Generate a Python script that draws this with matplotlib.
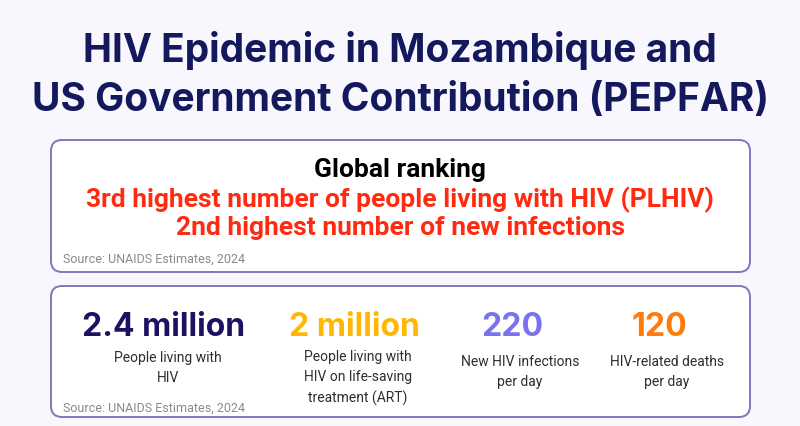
import matplotlib.pyplot as plt
from matplotlib.patches import FancyBboxPatch

title_lines = ["HIV Epidemic in Mozambique and", "US Government Contribution (PEPFAR)"]
ranking_head = "Global ranking"
ranking_lines = ["3rd highest number of people living with HIV (PLHIV)",
                 "2nd highest number of new infections"]
source = "Source: UNAIDS Estimates, 2024"

stat_values = ["2.4 million", "2 million", "220", "120"]
stat_labels = ["People living with\nHIV",
               "People living with\nHIV on life-saving\ntreatment (ART)",
               "New HIV infections\nper day",
               "HIV-related deaths\nper day"]
stat_colors = ["#1f1162", "#ffb703", "#7b72f0", "#ff7b0a"]
value_x = [164, 354, 512, 659]
label_x = [168, 358, 520, 667]
label_y = [351, 350, 355, 355]

bg = "#f8f7fd"
border = "#7f76bd"
navy = "#13195c"
red = "#ff2a10"

fig = plt.figure(figsize=(8, 4.27), dpi=100, facecolor=bg)
ax = fig.add_axes([0, 0, 1, 1])
ax.set_xlim(0, 800)
ax.set_ylim(427, 0)
ax.axis("off")

ax.text(400, 51, title_lines[0], ha="center", va="center", fontsize=28,
        fontweight="bold", color=navy, family="Inter")
ax.text(400, 100, title_lines[1], ha="center", va="center", fontsize=28,
        fontweight="bold", color=navy, family="Inter")

# boxes
for y0, y1 in [(141, 273), (287, 418)]:
    box = FancyBboxPatch((51, y0), 699, y1 - y0, boxstyle="round,pad=0,rounding_size=11",
                         facecolor="white", edgecolor=border, linewidth=1.4)
    ax.add_patch(box)

ax.text(400, 170, ranking_head, ha="center", va="center", fontsize=19,
        fontweight="bold", color="black", family="Roboto")
for i, line in enumerate(ranking_lines):
    ax.text(400, 200 + i * 28, line, ha="center", va="center", fontsize=19,
            fontweight="bold", color=red, family="Roboto")
ax.text(63, 259, source, ha="left", va="center", fontsize=9, color="#8a8a8a",
        family="Roboto")

for i, (val, lab, col) in enumerate(zip(stat_values, stat_labels, stat_colors)):
    ax.text(value_x[i], 328, val, ha="center", va="center", fontsize=23,
            fontweight="bold", color=col, family="Inter")
    ax.text(label_x[i], label_y[i], lab, ha="center", va="top", fontsize=10,
            color="#2e2e2e", family="Roboto", linespacing=1.55)
ax.text(63, 408, source, ha="left", va="center", fontsize=9, color="#8a8a8a",
        family="Roboto")

fig.savefig("out.png", dpi=100, facecolor=bg)
